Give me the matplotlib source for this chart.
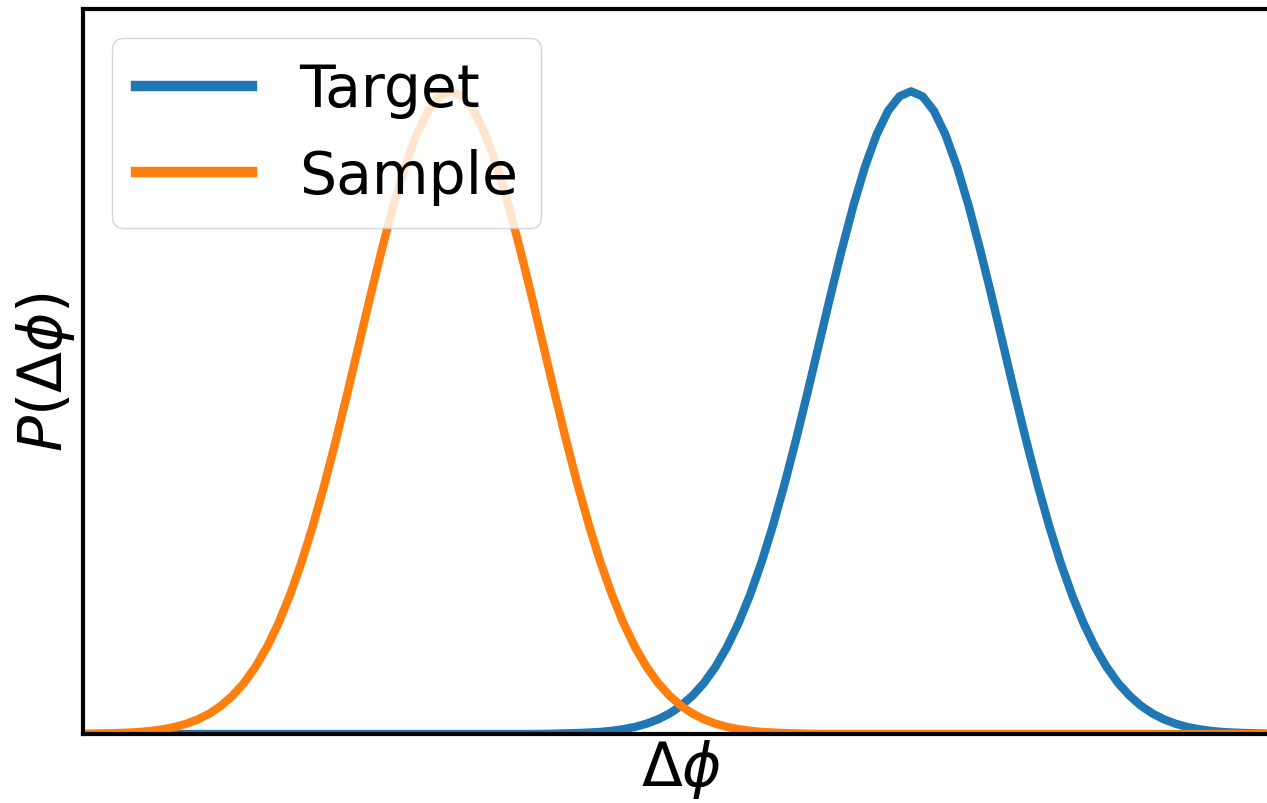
import numpy as np
import matplotlib
matplotlib.use("Agg")
import matplotlib.pyplot as plt

# grid of delta phi (in units of the common width), one point every 0.125
deltaPhi = np.arange(-6.5, 6.5 + 0.0625, 0.125)

# shape of one bump, from 4 widths left of the peak to 4 right
peakProfile = [
    0.0001, 0.0002, 0.0004, 0.0006, 0.0009, 0.0013, 0.0020, 0.0030,
    0.0044, 0.0064, 0.0091, 0.0127, 0.0175, 0.0238, 0.0317, 0.0417,
    0.0540, 0.0688, 0.0863, 0.1065, 0.1295, 0.1550, 0.1826, 0.2119,
    0.2420, 0.2721, 0.3011, 0.3282, 0.3521, 0.3719, 0.3867, 0.3958,
    0.3989,
    0.3958, 0.3867, 0.3719, 0.3521, 0.3282, 0.3011, 0.2721, 0.2420,
    0.2119, 0.1826, 0.1550, 0.1295, 0.1065, 0.0863, 0.0688, 0.0540,
    0.0417, 0.0317, 0.0238, 0.0175, 0.0127, 0.0091, 0.0064, 0.0044,
    0.0030, 0.0020, 0.0013, 0.0009, 0.0006, 0.0004, 0.0002, 0.0001,
]
flatTail = [0.0000] * 40

targetDensity = flatTail + peakProfile   # peak near +2.5
sampleDensity = peakProfile + flatTail   # peak near -2.5

seriesLabels = ["Target", "Sample"]

fig = plt.figure(figsize=(12.67, 8.04), dpi=100)
ax = fig.add_axes([83 / 1267, 69 / 804, 1196 / 1267, 725 / 804])

ax.plot(deltaPhi, targetDensity, color="#1f77b4", linewidth=6, label=seriesLabels[0])
ax.plot(deltaPhi, sampleDensity, color="#ff7f0e", linewidth=6, label=seriesLabels[1])

ax.set_xlim(-6.5, 6.5)
ax.set_ylim(0, 0.45)
ax.set_xticks([])
ax.set_yticks([])
for side in ax.spines:
    ax.spines[side].set_linewidth(3)
ax.spines["right"].set_visible(False)

ax.set_xlabel(r"$\Delta\phi$", fontsize=43, labelpad=2)
ax.set_ylabel(r"$P(\Delta\phi)$", fontsize=43, labelpad=4)

leg = ax.legend(loc="upper left", fontsize=42)
for line in leg.get_lines():
    line.set_linewidth(7.5)

fig.savefig("out.png", dpi=100)
